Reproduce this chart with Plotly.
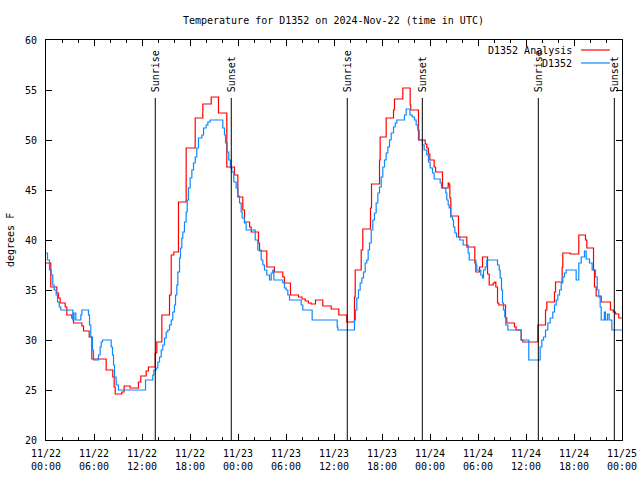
import plotly.graph_objects as go

# ---------------- data (hours since 2024-11-22 00:00 UTC, degrees F) ----------------
analysis_hours = [0.0, 0.6, 1.35, 1.56, 1.77, 2.4, 2.6, 3.23, 3.44, 4.48, 4.69, 5.4, 5.73, 7.52,
                  8.35, 8.52, 8.65, 9.48, 9.77, 10.52, 11.56, 11.85, 12.52, 12.8, 13.65, 13.85,
                  14.48, 15.44, 15.65, 15.98, 16.56, 17.52, 18.65, 19.6, 20.65, 21.56, 22.6,
                  23.56, 23.98, 24.6, 24.81, 25.45, 25.65, 26.56, 26.69, 27.6, 28.56, 29.6, 29.81,
                  30.56, 31.56, 32.0, 32.4, 32.8, 33.15, 33.69, 34.6, 35.65, 36.6, 37.6, 38.56,
                  38.65, 39.4, 39.6, 40.56, 40.69, 41.69, 41.77, 42.52, 43.44, 43.56, 44.6, 45.52,
                  45.6, 46.56, 47.4, 47.6, 47.8, 47.98, 48.52, 48.7, 49.56, 50.27, 50.4, 50.48,
                  50.6, 51.56, 52.6, 53.6, 53.73, 54.19, 54.56, 55.19, 55.4, 55.9, 56.1, 56.23,
                  56.44, 56.6, 57.44, 57.6, 58.56, 58.77, 59.4, 59.6, 61.48, 62.44, 62.6, 63.56,
                  63.69, 64.52, 64.6, 65.52, 66.6, 67.44, 67.6, 68.44, 68.56, 68.77, 69.4, 70.56,
                  70.9, 71.2, 71.6, 72.0]
analysis_temps = [37.7, 35.3, 34.7, 34.2, 33.7, 33.3, 32.5, 32.2, 31.7, 31.4, 30.9, 30.3, 28.1, 27.0,
                  26.3, 25.3, 24.6, 24.8, 25.4, 25.2, 25.8, 26.4, 26.9, 27.3, 28.7, 29.8,
                  32.5, 34.5, 38.5, 38.8, 43.8, 49.2, 52.2, 53.6, 54.3, 52.7, 47.3,
                  46.5, 44.3, 43.0, 41.8, 41.3, 40.8, 39.7, 38.9, 37.3, 36.8, 36.3, 35.7,
                  34.5, 34.3, 34.1, 33.9, 33.7, 33.6, 34.0, 33.4, 33.1, 32.5, 31.8, 34.3,
                  37.0, 39.0, 41.1, 43.2, 45.6, 48.0, 50.3, 52.2, 53.0, 54.1, 55.2, 53.5,
                  53.0, 50.0, 49.6, 49.2, 48.6, 48.0, 47.3, 46.8, 45.2, 45.7, 45.5, 44.2,
                  42.4, 40.3, 39.3, 37.7, 36.8, 37.3, 38.3, 36.6, 35.5, 35.7, 35.8, 35.3,
                  33.7, 33.5, 32.2, 31.7, 31.3, 31.0, 30.0, 29.8, 31.5, 33.0, 33.8, 34.8,
                  35.8, 37.3, 38.7, 38.6, 40.5, 40.0, 39.2, 37.0, 35.3, 34.4, 33.8, 33.0,
                  32.8, 32.6, 32.2, 32.2]

station_hours = [0.0, 0.19, 0.44, 0.65, 0.85, 1.02, 1.27, 1.44, 1.65, 1.85, 3.35, 3.5, 3.73, 4.35,
                 4.48, 5.31, 5.44, 5.6, 5.81, 5.94, 6.56, 6.77, 6.9, 7.06, 8.15, 8.31, 8.44, 8.56,
                 8.77, 9.06, 12.44, 13.35, 13.48, 13.77, 13.98, 14.19, 14.4, 14.6, 14.81, 15.02,
                 15.23, 15.44, 15.65, 15.85, 16.06, 16.19, 16.35, 16.48, 16.69, 16.81, 16.98,
                 17.1, 17.31, 17.52, 17.65, 17.81, 18.02, 18.23, 18.44, 18.65, 18.85, 19.06,
                 19.48, 19.69, 20.02, 20.23, 20.52, 21.98, 22.1, 22.31, 22.44, 22.65, 22.85,
                 23.06, 23.23, 23.48, 23.77, 23.98, 24.19, 24.4, 24.52, 24.81, 25.02, 26.15,
                 26.48, 26.9, 27.1, 27.31, 27.6, 27.94, 28.15, 28.35, 28.48, 29.6, 29.81, 30.02,
                 30.23, 30.44, 31.9, 32.1, 33.27, 36.4, 36.48, 38.56, 38.69, 38.85, 39.06, 39.27,
                 39.48, 39.69, 39.9, 40.1, 40.27, 40.44, 40.65, 40.85, 41.06, 41.27, 41.48,
                 41.69, 41.9, 42.1, 42.31, 42.52, 42.73, 42.94, 43.15, 43.44, 43.65, 43.85,
                 44.81, 45.02, 45.5, 45.77, 46.06, 46.27, 46.48, 46.65, 47.06, 47.27, 47.6,
                 47.81, 48.02, 48.31, 48.52, 49.27, 49.44, 49.98, 50.1, 50.27, 50.4, 50.6, 50.81,
                 50.94, 51.1, 51.31, 51.73, 52.15, 52.77, 52.9, 53.73, 53.85, 54.35, 54.56, 54.69,
                 54.9, 55.1, 56.44, 56.65, 56.77, 56.94, 57.06, 57.19, 57.35, 57.48, 57.73,
                 59.4, 60.35, 61.77, 61.98, 62.19, 62.44, 62.73, 63.02, 63.35, 63.56, 63.77,
                 63.98, 64.19, 64.4, 64.6, 64.81, 65.02, 66.27, 66.6, 66.9, 67.31, 67.52, 67.94,
                 68.27, 68.69, 68.9, 69.1, 69.27, 69.4, 69.8, 69.94, 70.2, 70.4, 70.73, 72.0]
station_temps = [38.7, 38.0, 37.0, 36.5, 35.5, 35.0, 34.5, 33.8, 33.3, 33.0, 32.0, 32.7, 32.0, 32.5,
                 33.0, 32.5, 31.5, 30.3, 29.0, 28.0, 28.5, 29.3, 29.8, 30.0, 29.3, 28.5, 27.5, 26.3,
                 25.5, 25.0, 26.0, 26.5, 27.0, 27.2, 27.8, 28.3, 29.0, 29.5, 30.2, 30.8,
                 31.0, 31.5, 32.0, 32.8, 33.5, 34.5, 35.5, 36.8, 38.2, 39.2, 40.2,
                 40.8, 41.8, 42.8, 44.0, 45.2, 46.2, 47.0, 47.7, 48.3, 49.2, 50.2,
                 50.5, 51.2, 51.5, 51.8, 52.0, 52.0, 51.2, 50.5, 49.7, 48.8, 48.0,
                 47.2, 46.8, 45.8, 45.2, 44.4, 43.7, 42.8, 42.2, 41.7, 41.0, 40.0,
                 39.0, 38.0, 37.5, 37.0, 36.5, 36.0, 36.7, 37.0, 36.0, 35.7, 35.2, 35.0,
                 34.5, 34.0, 33.5, 33.0, 32.0, 31.3, 31.0, 32.0, 33.0, 34.2, 35.0, 35.7,
                 36.2, 36.8, 37.7, 38.0, 39.0, 39.7, 41.0, 42.0, 42.7, 43.7, 44.7,
                 45.3, 46.3, 47.3, 48.0, 48.7, 49.3, 50.0, 50.7, 51.3, 51.7, 52.0,
                 52.5, 53.1, 52.5, 52.3, 52.0, 51.5, 51.0, 50.0, 49.5, 49.0, 48.5,
                 47.8, 47.2, 46.7, 46.1, 45.7, 45.2, 44.7, 44.0, 43.5, 43.2, 42.3, 42.0,
                 41.3, 40.7, 40.3, 40.0, 39.5, 38.7, 38.0, 37.5, 37.0, 36.5, 36.2, 37.0,
                 37.3, 38.0, 37.5, 37.0, 36.2, 35.0, 33.7, 33.0, 32.3, 31.5, 31.0,
                 30.0, 28.0, 29.3, 30.0, 30.3, 31.0, 31.7, 32.2, 32.8, 33.5, 34.0,
                 34.5, 35.0, 35.7, 36.3, 36.7, 37.0, 36.0, 37.7, 38.3, 38.9, 38.1, 37.7,
                 37.0, 36.3, 35.0, 34.3, 33.3, 32.0, 32.8, 32.0, 32.6, 32.0, 31.0, 31.0]

sun_hours = [13.66, 23.16, 37.66, 47.04, 61.54, 71.04]
sun_labels = ["Sunrise", "Sunset", "Sunrise", "Sunset", "Sunrise", "Sunset"]
sun_line_top = 54.2

tick_hours = [0, 6, 12, 18, 24, 30, 36, 42, 48, 54, 60, 66, 72]
tick_labels = ["11/22<br>00:00", "11/22<br>06:00", "11/22<br>12:00", "11/22<br>18:00",
               "11/23<br>00:00", "11/23<br>06:00", "11/23<br>12:00", "11/23<br>18:00",
               "11/24<br>00:00", "11/24<br>06:00", "11/24<br>12:00", "11/24<br>18:00",
               "11/25<br>00:00"]

series_names = ["D1352 Analysis", "D1352"]
series_colors = ["#ff0000", "#0a88ff"]

FONT = "DejaVu Sans Mono"

fig = go.Figure()
fig.add_trace(go.Scatter(x=analysis_hours, y=analysis_temps, mode="lines", line_shape="hv",
                         name=series_names[0], line=dict(color=series_colors[0], width=1.2)))
fig.add_trace(go.Scatter(x=station_hours, y=station_temps, mode="lines", line_shape="hv",
                         name=series_names[1], line=dict(color=series_colors[1], width=1.2)))

for h, lab in zip(sun_hours, sun_labels):
    fig.add_shape(type="line", xref="x", yref="y", x0=h, x1=h, y0=20, y1=sun_line_top,
                  line=dict(color="black", width=1))
    fig.add_annotation(x=h, y=sun_line_top + 0.4, xref="x", yref="y", text=lab, textangle=-90,
                       showarrow=False, xanchor="center", yanchor="bottom",
                       font=dict(family=FONT, size=10, color="black"))

# gnuplot-style legend (text left, line sample right)
legend_y = [0.975, 0.9425]
for name, color, ly in zip(series_names, series_colors, legend_y):
    fig.add_annotation(x=0.917, y=ly, xref="paper", yref="paper", text=name, showarrow=False,
                       xanchor="right", yanchor="middle",
                       font=dict(family=FONT, size=10, color="black"))
    fig.add_shape(type="line", xref="paper", yref="paper", x0=0.929, x1=0.979, y0=ly, y1=ly,
                  line=dict(color=color, width=1.2))

# y-axis label placed like gnuplot's (near the left edge of the image)
fig.add_annotation(x=-0.0625, y=0.5, xref="paper", yref="paper", text="degrees F", textangle=-90,
                   showarrow=False, xanchor="center", yanchor="middle",
                   font=dict(family=FONT, size=10, color="black"))

fig.update_layout(
    width=640, height=480,
    margin=dict(l=46, r=18, t=40, b=40, autoexpand=False),
    paper_bgcolor="white", plot_bgcolor="white",
    showlegend=False,
    font=dict(family=FONT, size=10, color="black"),
    title=dict(text="Temperature for D1352 on 2024-Nov-22 (time in UTC)", x=0.521, xanchor="center",
               y=0.958, yanchor="middle", automargin=False,
               font=dict(family=FONT, size=10, color="black")),
)
fig.update_xaxes(range=[0, 72], tickmode="array", tickvals=tick_hours, ticktext=tick_labels,
                 ticks="inside", ticklen=6, tickcolor="black", showgrid=False, zeroline=False,
                 showline=True, linecolor="black", linewidth=1, mirror="ticks", automargin=False,
                 ticklabelstandoff=4,
                 minor=dict(tickmode="linear", tick0=0, dtick=2, ticks="inside", ticklen=3,
                            tickcolor="black", showgrid=False),
                 tickfont=dict(family=FONT, size=10, color="black"))
fig.update_yaxes(range=[20, 60], dtick=5, tick0=20, ticks="inside", ticklen=6, tickcolor="black",
                 showgrid=False, zeroline=False, showline=True, linecolor="black", linewidth=1,
                 mirror="ticks", ticklabelstandoff=6, automargin=False,
                 tickfont=dict(family=FONT, size=10, color="black"))

# remove the browser's default 8px page margin so the 640x480 figure fills the window exactly
fig.write_html("out.html", config={"displayModeBar": False},
               post_script="document.body.style.margin='0';")
